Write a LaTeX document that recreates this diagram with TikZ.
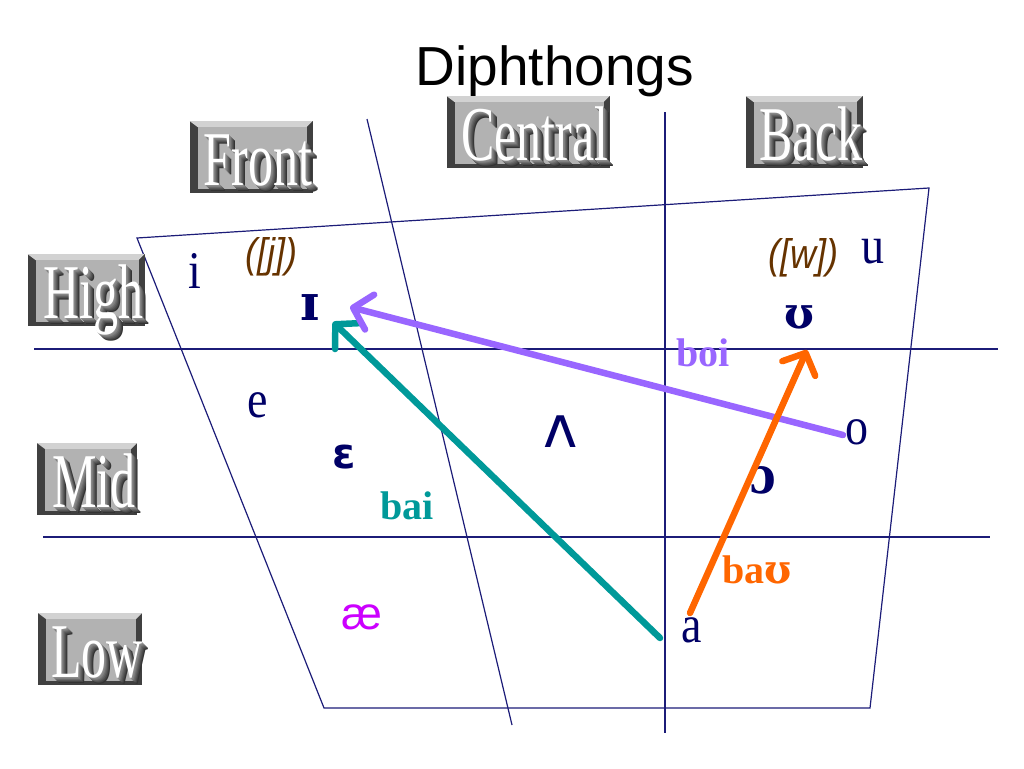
\documentclass[tikz,border=0pt]{standalone}
\usepackage{fontspec}
\setmainfont{Liberation Serif}
\newfontfamily\titlefont{Liberation Sans}
\newfontfamily\ipaserif{DejaVu Serif}
\newfontfamily\ipasans{DejaVu Sans}
\usepackage{graphicx}
\usetikzlibrary{arrows.meta,positioning}
\definecolor{ChartNavy}{HTML}{1C1C78}
\definecolor{VowelNavy}{HTML}{000066}
\definecolor{GlideBrown}{HTML}{663300}
\definecolor{BaiTeal}{HTML}{009999}
\definecolor{BoiPurple}{HTML}{9966FF}
\definecolor{BauOrange}{HTML}{FF6600}
\definecolor{AshMagenta}{HTML}{CC00FF}
\newcommand{\wa}[1]{\scalebox{1}[1.55]{#1}}
\newcommand{\tall}[1]{\scalebox{1}[1.15]{#1}}

\begin{document}
\begin{tikzpicture}[x=1pt,y=-1pt,
    grid/.style={ChartNavy,line width=1.2pt},
    vowel/.style={text=VowelNavy,inner sep=0pt,font=\fontsize{46}{46}\selectfont},
    ipa/.style={text=VowelNavy,inner sep=0pt,font=\fontsize{44}{44}\selectfont\ipaserif\bfseries},
    glide/.style={text=GlideBrown,inner sep=0pt,font=\fontsize{36}{36}\selectfont\titlefont\itshape},
    word/.style={inner sep=0pt,font=\fontsize{40}{40}\selectfont\bfseries},
    diph/.style={line width=6.5pt,line cap=round,
                 -{Straight Barb[length=17pt,width=36pt,round]}},
    watext/.style={inner sep=0pt,anchor=base,font=\fontsize{50}{50}\selectfont}]

  \useasboundingbox (0,0) rectangle (1024,768);

  \node[font=\fontsize{55}{55}\selectfont\titlefont,anchor=base] (title) at (555,85) {Diphthongs};

  % the chart
  \draw[grid] (137,238) -- (929,188) -- (870,708) -- (324,708) -- cycle;
  \draw[grid] (367,119) -- (512,725);
  \draw[grid] (665,112) -- (665,733);
  \draw[grid] (34,349) -- (998,349);
  \draw[grid] (43,537) -- (990,537);

  % 3d word labels
  \foreach \nm/\px/\py/\bw/\txt in {front/251/185/123/Front,central/528/160/163/Central,
      back/804/160/117/Back,high/86/318/117/High,mid/87/507/100/Mid,low/90/677/104/Low}{
    \fill[black!75] (\px-\bw/2,\py-64) rectangle (\px+\bw/2,\py+8);
    \fill[gray!35] (\px-\bw/2,\py-64) -- (\px+\bw/2,\py-64) -- (\px+\bw/2-6,\py-58)
      -- (\px-\bw/2+8,\py-58) -- cycle;
    \fill[gray!60] (\px-\bw/2+8,\py-58) rectangle (\px+\bw/2-6,\py+4);
    \foreach \kk/\shade in {6/80,5/72,4/65,3/58,2/50,1/45}
      \node[watext,text=black!\shade] at (\px+7+\kk,\py+\kk) {\wa{\txt}};
    \node[watext,text=white] (\nm) at (\px+7,\py) {\wa{\txt}};
  }

  % vowels
  \node[vowel] (i)  at (195,271) {\tall{i}};
  \node[ipa,font=\fontsize{50}{50}\selectfont\ipaserif\bfseries] (ih) at (310,308) {ɪ};
  \node[vowel] (e)  at (258,405) {\tall{e}};
  \node[ipa,font=\fontsize{42}{42}\selectfont\ipasans\bfseries] (eh) at (344,457) {ɛ};
  \node[ipa,font=\fontsize{58}{58}\selectfont\ipasans] (uh) at (561,432) {ʌ};
  \node[ipa,text=AshMagenta,font=\fontsize{46}{46}\selectfont\titlefont] (ae) at (362,617) {æ};
  \node[vowel] (a)  at (692,630) {\tall{a}};
  \node[vowel] (o)  at (857,432) {\tall{o}};
  \node[ipa]   (oh) at (763,480) {\tall{ɔ}};
  \node[ipa]   (hu) at (799,317) {ʊ};
  \node[vowel] (u)  at (873,252) {\tall{u}};
  \node[glide] (j)  at (271,257) {\tall{([j])}};
  \node[glide] (w)  at (803,258) {\tall{([w])}};

  % diphthongs
  \coordinate (bai-from) at ([shift={(-32,8)}]a.center);
  \coordinate (bai-to)   at ([shift={(23,14)}]ih.center);
  \coordinate (boi-from) at ([shift={(-14,3)}]o.center);
  \coordinate (boi-to)   at ([shift={(40,-1)}]ih.center);
  \coordinate (bau-from) at ([shift={(-2,-17)}]a.center);
  \coordinate (bau-to)   at ([shift={(8,33)}]hu.center);
  \draw[diph,BaiTeal]   (bai-from) -- (bai-to);
  \draw[diph,BoiPurple] (boi-from) -- (boi-to);
  \draw[diph,BauOrange] (bau-from) -- (bau-to);

  \node[word,text=BaiTeal]   (bai) at (407,506) {bai};
  \node[word,text=BoiPurple] (boi) at (703,353) {boi};
  \node[word,text=BauOrange] (bau) at (757,570) {ba{\ipaserif ʊ}};
\end{tikzpicture}
\end{document}
